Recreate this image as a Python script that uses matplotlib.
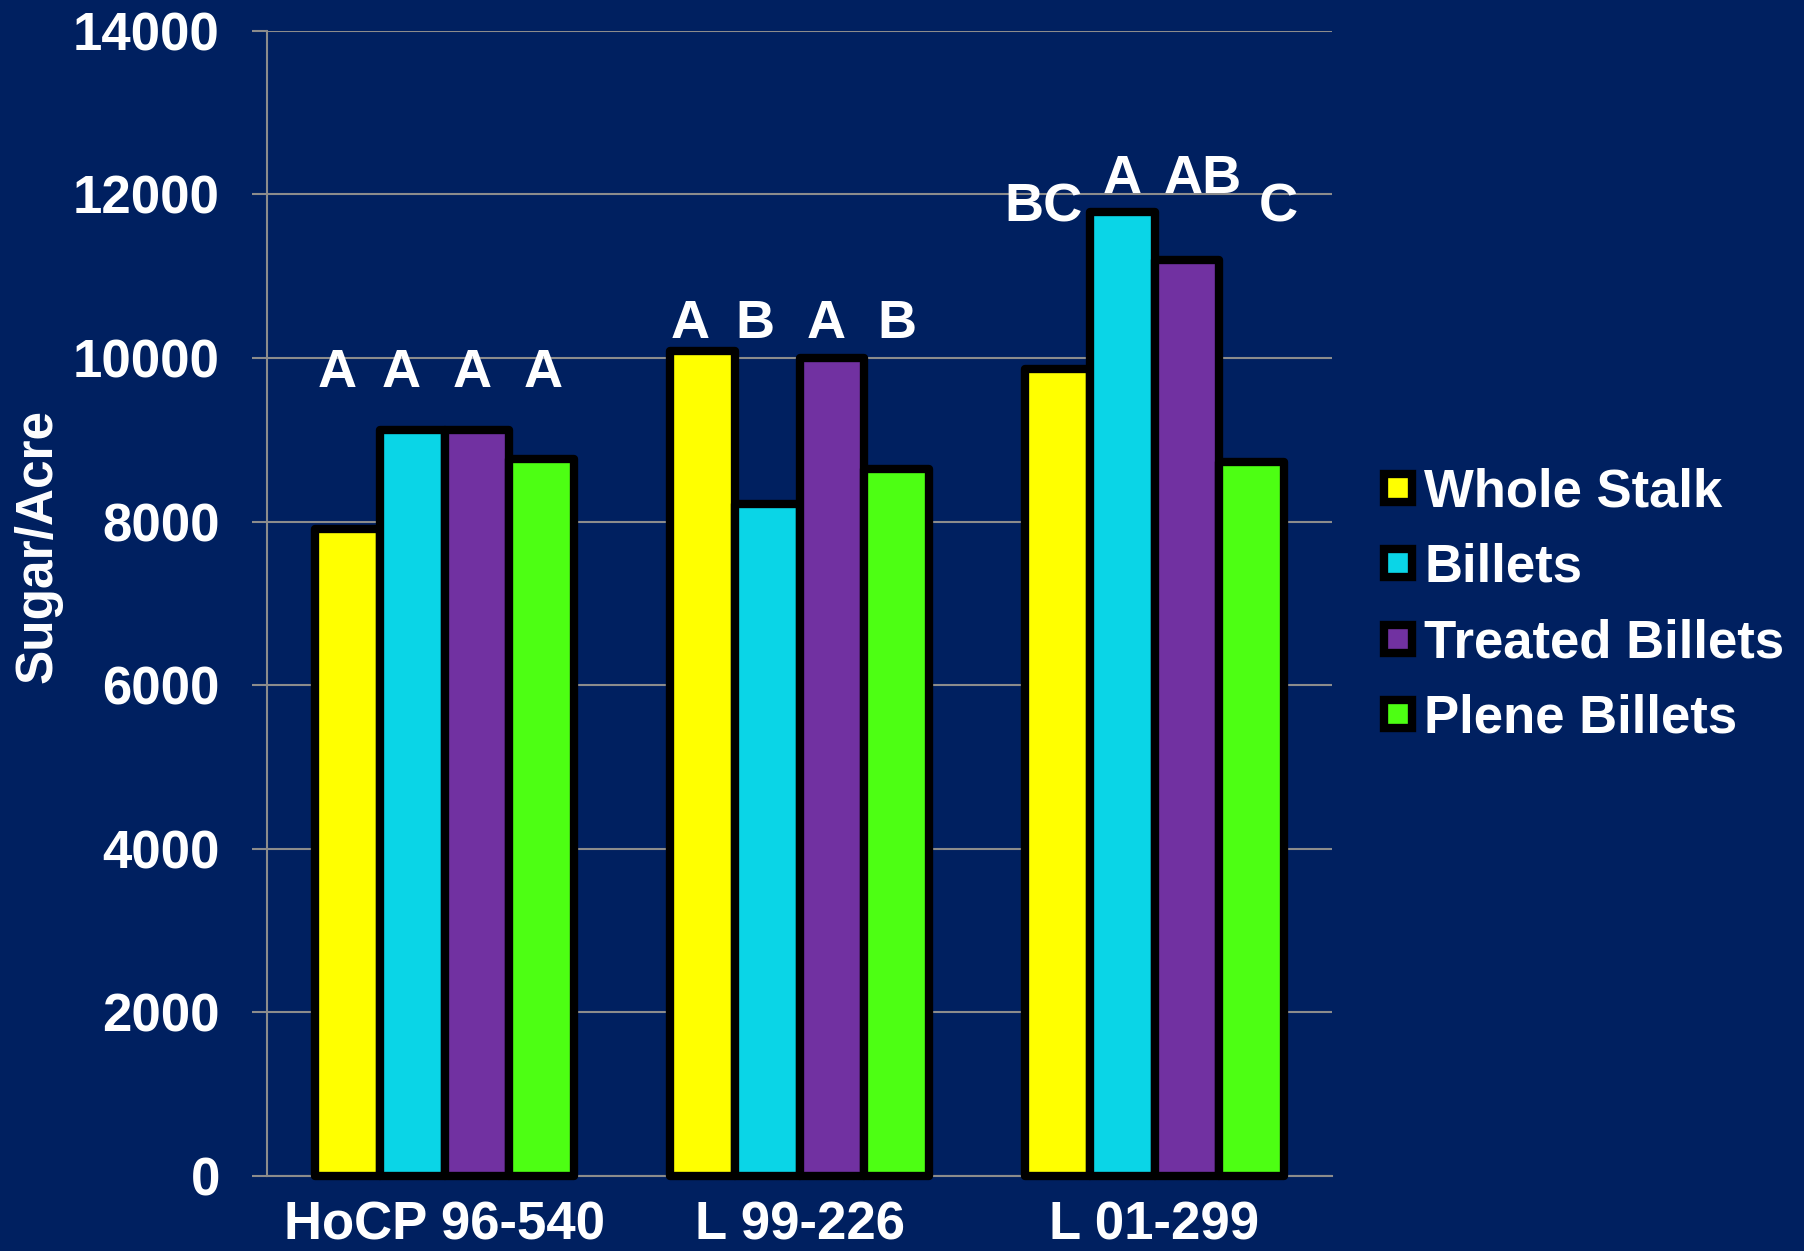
import matplotlib
matplotlib.use("Agg")
import matplotlib.pyplot as plt
from matplotlib.lines import Line2D
import numpy as np

# ---- data ----
categories = ["HoCP 96-540", "L 99-226", "L 01-299"]
series_names = ["Whole Stalk", "Billets", "Treated Billets", "Plene Billets"]
whole_stalk = [7910, 10090, 9870]
billets = [9120, 8220, 11790]
treated_billets = [9120, 10000, 11200]
plene_billets = [8770, 8640, 8730]
letters = [["A", "A", "A", "A"],
           ["A", "B", "A", "B"],
           ["BC", "A", "AB", "C"]]
letter_heights = [[9650, 9650, 9650, 9650],
                  [10240, 10240, 10240, 10240],
                  [11670, 12020, 12020, 11670]]
yticks = [0, 2000, 4000, 6000, 8000, 10000, 12000, 14000]

# ---- style ----
bg = "#002060"
colors = ["#FFFF00", "#0AD5E7", "#7131A1", "#4DFF13"]
plt.rcParams["font.family"] = ["Liberation Sans", "DejaVu Sans"]
plt.rcParams["font.weight"] = "bold"

fig = plt.figure(figsize=(18.04, 12.51), dpi=100, facecolor=bg)
ax = fig.add_axes([0.148, 0.06, 0.5904, 0.9153], facecolor=bg)

series = [whole_stalk, billets, treated_billets, plene_billets]
x = np.arange(len(categories))
w = 0.1825
offsets = (np.arange(4) - 1.5) * w
for i, vals in enumerate(series):
    bars = ax.bar(x + offsets[i], vals, width=w, color=colors[i],
                  edgecolor="black", linewidth=6.0, zorder=3, clip_on=False,
                  label=series_names[i])
    for b in bars:
        b.set_joinstyle("round")

# letter annotations
letter_offsets = [[-0.302, -0.121, 0.079, 0.279],
                  [-0.307, -0.126, 0.074, 0.274],
                  [-0.314, -0.092, 0.135, 0.349]]
for g in range(len(categories)):
    for k in range(4):
        ax.text(x[g] + letter_offsets[g][k], letter_heights[g][k], letters[g][k],
                ha="center", va="baseline", color="white", fontsize=39,
                fontweight="bold", zorder=5)

ax.set_xlim(-0.5, 2.5)
ax.set_ylim(0, 14000)
ax.set_yticks(yticks)
ax.set_yticklabels([str(v) for v in yticks])
ax.set_xticks(x)
ax.set_xticklabels(categories)
ax.grid(axis="y", color="#8C8C8C", linewidth=1.5, zorder=0)
ax.set_axisbelow(True)
for s in ["top", "right"]:
    ax.spines[s].set_visible(False)
for s in ["left", "bottom"]:
    ax.spines[s].set_color("#8C8C8C")
    ax.spines[s].set_linewidth(1.5)
ax.tick_params(axis="y", colors="#8C8C8C", length=11, width=1.5, pad=23,
               labelcolor="white", labelsize=38)
ax.tick_params(axis="x", length=0, pad=18, labelcolor="white", labelsize=38)
for t in ax.get_xticklabels() + ax.get_yticklabels():
    t.set_fontweight("bold")

ax.set_ylabel("Sugar/Acre", color="white", fontsize=37, fontweight="bold")
ax.yaxis.set_label_coords(-0.192, 0.55)

handles = [Line2D([], [], linestyle="none", marker="s", markersize=20.5,
                  markerfacecolor=c, markeredgecolor="black", markeredgewidth=6)
           for c in colors]
leg = fig.legend(handles, series_names, loc="center left",
                 bbox_to_anchor=(0.7515, 0.516), frameon=False,
                 prop={"size": 38, "weight": "bold"}, labelcolor="white",
                 handlelength=0.6, handletextpad=0.2, labelspacing=0.475,
                 borderpad=0)

fig.savefig("out.png", dpi=100, facecolor=bg)
